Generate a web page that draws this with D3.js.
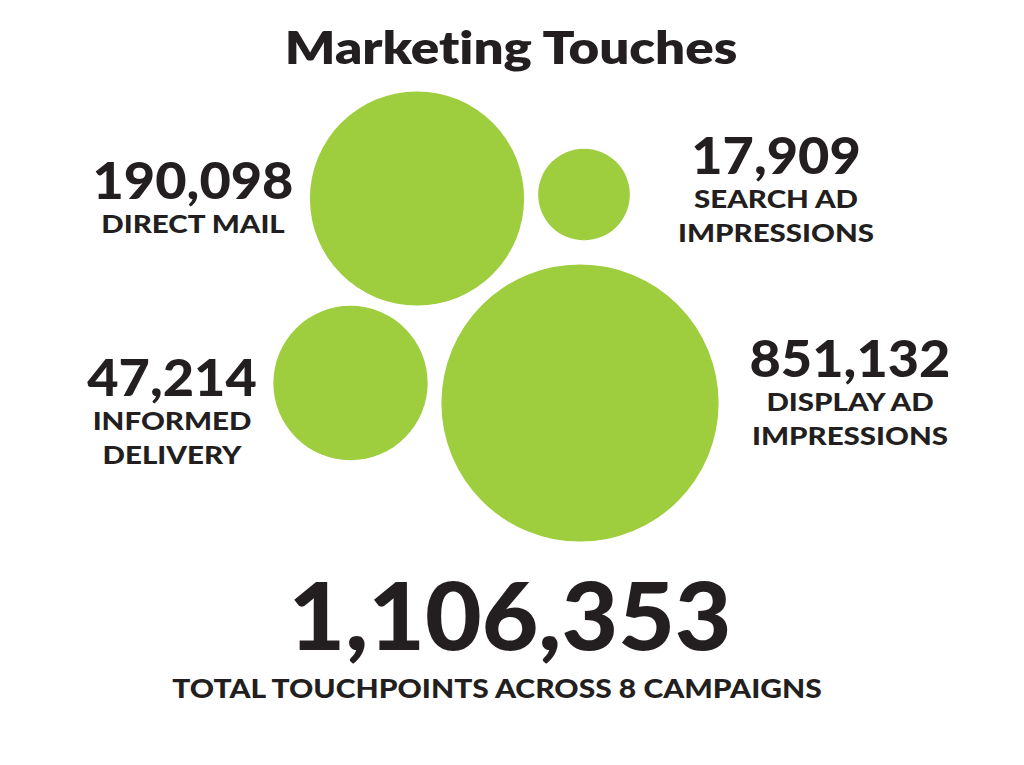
<!DOCTYPE html>
<html>
<head>
<meta charset="utf-8">
<script src="https://cdn.jsdelivr.net/npm/d3@7"></script>
<style>
  html, body { margin: 0; padding: 0; background: #ffffff; }
  svg { display: block; }
  text { font-variant-ligatures: none; font-feature-settings: "liga" 0, "clig" 0; }
</style>
</head>
<body>
<svg id="chart" width="1024" height="765"></svg>
<script>
// ---- data ----
const title = "Marketing Touches";
const categories = ["DIRECT MAIL", "SEARCH AD IMPRESSIONS", "INFORMED DELIVERY", "DISPLAY AD IMPRESSIONS"];
const labelLines = [["DIRECT MAIL"], ["SEARCH AD", "IMPRESSIONS"], ["INFORMED", "DELIVERY"], ["DISPLAY AD", "IMPRESSIONS"]];
const values = [190098, 17909, 47214, 851132];
const totalLabel = "TOTAL TOUCHPOINTS ACROSS 8 CAMPAIGNS";

// ---- layout (presentation only) ----
const bubbleCenters = [[417, 198.5], [584, 194.5], [350.5, 383], [580, 403]];
const labelAnchors = [[193, 199], [776, 174], [172, 396], [850, 377]];

const GREEN = "#9ecd3e";
const INK = "#231f20";
const FONT = "Lato, 'Open Sans', sans-serif";

const svg = d3.select("#chart");
const fmt = d3.format(",");

const r = d3.scaleLog().domain([1e4, 5e4, 1e6]).range([27, 79, 142]);

const data = categories.map((c, i) => ({
  cat: c, value: values[i], lines: labelLines[i],
  cx: bubbleCenters[i][0], cy: bubbleCenters[i][1],
  lx: labelAnchors[i][0], ly: labelAnchors[i][1]
}));

svg.append("text")
  .attr("transform", "translate(511,64) scale(1.15,1)")
  .attr("text-anchor", "middle")
  .attr("font-family", FONT).attr("font-weight", 800)
  .attr("font-size", 46).attr("fill", INK)
  .text(title);

svg.append("g").selectAll("circle").data(data).join("circle")
  .attr("cx", d => d.cx).attr("cy", d => d.cy)
  .attr("r", d => r(d.value))
  .attr("fill", GREEN);

const lab = svg.append("g").selectAll("g").data(data).join("g")
  .attr("transform", d => `translate(${d.lx},${d.ly})`)
  .attr("fill", INK).attr("font-family", FONT).attr("text-anchor", "middle");

lab.append("text")
  .attr("transform", "scale(1.04,1)")
  .attr("font-weight", 900).attr("font-size", 52)
  .text(d => fmt(d.value));

lab.each(function(d) {
  d3.select(this).selectAll("text.l").data(d.lines).join("text")
    .attr("class", "l")
    .attr("transform", "scale(1.18,1)")
    .attr("y", (t, j) => 34 + j * 34.5)
    .attr("font-weight", 900).attr("font-size", 25)
    .text(t => t);
});

svg.append("text")
  .attr("transform", "translate(510,650) scale(1.04,1)")
  .attr("text-anchor", "middle")
  .attr("font-family", FONT).attr("font-weight", 900)
  .attr("font-size", 94).attr("fill", INK)
  .text(fmt(d3.sum(values)));

svg.append("text")
  .attr("transform", "translate(497,698) scale(1.155,1)")
  .attr("text-anchor", "middle")
  .attr("font-family", FONT).attr("font-weight", 900)
  .attr("font-size", 26).attr("fill", INK)
  .text(totalLabel);
</script>
</body>
</html>
